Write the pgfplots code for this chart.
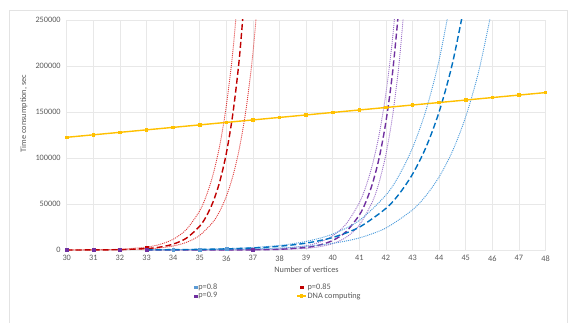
\documentclass[border=0pt]{standalone}
\usepackage{pgfplots}
\pgfplotsset{compat=1.18}
\usepackage{fontspec}
\setmainfont{Carlito}
\definecolor{redC}{HTML}{C00000}
\definecolor{redD}{HTML}{E03A3A}
\definecolor{purC}{HTML}{7030A0}
\definecolor{purD}{HTML}{9B6FC8}
\definecolor{bluC}{HTML}{0070C0}
\definecolor{bluD}{HTML}{4A9ADB}
\definecolor{bluM}{HTML}{5B9BD5}
\definecolor{dna}{HTML}{FFC000}
\definecolor{txt}{HTML}{595959}
\begin{document}
\begin{tikzpicture}[x=1bp,y=1bp]
\path[use as bounding box] (0,0) rectangle (577,323);
\draw[color=gray!22, line width=0.7bp] (9.5,0) -- (9.5,313) -- (567.5,313) -- (567.5,0);
\node[rotate=90, font=\fontsize{8.3}{10}\selectfont, text=txt] at (24,209.5) {Time consumption, sec};
\node[font=\fontsize{8.3}{10}\selectfont, text=txt] at (306.5,53) {Number of vertices};
\begin{axis}[
  at={(66.7bp,73bp)}, anchor=south west, scale only axis,
  width=478.8bp, height=230bp,
  xmin=30, xmax=48, ymin=0, ymax=250000,
  xtick={30,...,48}, ytick={0,50000,100000,150000,200000,250000},
  grid=major, major grid style={color=gray!18, line width=0.6bp},
  axis line style={draw=none}, major tick length=0,
  /pgf/number format/assume math mode=true,
  ticklabel style={font=\fontsize{8.3}{10}\selectfont, text=txt},
  xticklabel style={yshift=-2bp},
  yticklabel style={xshift=-2.5bp, /pgf/number format/fixed, /pgf/number format/1000 sep={}},
  scaled y ticks=false,
  clip mode=individual,
  legend columns=2,
  legend cell align=left,
  legend style={at={(axis description cs:0.2669,-0.142)}, anchor=north west,
    draw=none, fill=none, inner sep=0pt, font=\fontsize{8.3}{10}\selectfont, text=txt,
    cells={anchor=west},
    nodes={inner xsep=1bp, inner ysep=0.8bp},
    /tikz/every even column/.append style={column sep=78bp}},
  legend image code/.code={\draw[mark repeat=2,mark phase=2,#1] plot coordinates {(0bp,0bp) (4.5bp,0bp) (9bp,0bp)};},
]
% --- trendlines p=0.85 (red)
\addplot[forget plot, redD, line width=0.9bp, dash pattern=on 1bp off 1bp, smooth] coordinates {
(30,64) (31,235) (32,864) (33,3169) (33.5,6070) (34,11630) (34.5,22275) (35,42665) (35.25,59050) (35.5,81730) (35.75,113100) (36,156600) (36.25,216700) (36.5,299900)};
\addplot[forget plot, redD, line width=0.9bp, dash pattern=on 1bp off 1bp, smooth] coordinates {
(30,24) (31,88) (32,322) (33,1180) (33.5,2260) (34,4330) (34.5,8293) (35,15885) (35.5,30430) (35.75,42120) (36,58290) (36.25,80680) (36.5,111650) (36.75,154550) (37,213900) (37.25,296000)};
\addplot[forget plot, redC, line width=1.4bp, dash pattern=on 6bp off 3bp, smooth] coordinates {
(30,24) (31,96) (32,388) (33,1572) (33.5,3168) (34,6383) (34.5,12855) (35,25880) (35.25,36730) (35.5,52120) (35.75,73950) (36,104950) (36.25,148900) (36.5,211350) (36.75,299900)};
% --- trendlines p=0.9 (purple)
\addplot[forget plot, purD, line width=0.9bp, dash pattern=on 1bp off 1bp, smooth] coordinates {
(33,3.5) (34,11.6) (35,38) (36,127) (37,422) (38,1401) (39,4653) (39.5,8477) (40,15450) (40.5,28146) (41,51290) (41.25,69230) (41.5,93440) (41.75,126150) (42,170275) (42.25,229860) (42.5,310280)};
\addplot[forget plot, purD, line width=0.9bp, dash pattern=on 1bp off 1bp, smooth] coordinates {
(33,0.5) (34,2) (35,8) (36,31) (37,122) (38,470) (39,1811) (39.5,3557) (40,6986) (40.5,13720) (41,26950) (41.5,52930) (41.75,74170) (42,103950) (42.25,145670) (42.5,204170) (42.75,286130)};
\addplot[forget plot, purC, line width=1.4bp, dash pattern=on 6bp off 3bp, smooth] coordinates {
(33,1) (34,4) (35,15.6) (36,57) (37,209) (38,768) (39,2819) (39.5,5400) (40,10345) (40.5,19817) (41,37956) (41.25,52525) (41.5,72700) (41.75,100630) (42,139275) (42.25,192775) (42.5,266800)};
% --- trendlines p=0.8 (blue)
\addplot[forget plot, bluD, line width=0.9bp, dash pattern=on 1bp off 1bp, smooth] coordinates {
(33,225) (34,419) (35,778) (36,1447) (37,2690) (38,5000) (39,9295) (40,17280) (41,32120) (42,59700) (42.5,81400) (43,111000) (43.5,151330) (44,206300) (44.5,281300)};
\addplot[forget plot, bluD, line width=0.9bp, dash pattern=on 1bp off 1bp, smooth] coordinates {
(33,108) (34,197) (35,359) (36,654) (37,1192) (38,2172) (39,3957) (40,7210) (41,13137) (42,23937) (43,43620) (43.5,58875) (44,79475) (44.5,107275) (45,144825) (45.5,195475) (46,263875)};
\addplot[forget plot, bluC, line width=1.4bp, dash pattern=on 6bp off 3bp, smooth] coordinates {
(33,204) (34,372) (35,678) (36,1235) (37,2251) (38,4102) (39,7474) (40,13619) (41,24814) (42,45212) (42.5,61025) (43,82400) (43.5,111225) (44,150125) (44.5,202650) (45,273550)};
% --- DNA computing
\addplot[forget plot, dna, line width=1.4bp, mark=square*, mark size=1.1bp, mark options={solid}] coordinates {
(30,122500) (31,125200) (32,127900) (33,130600) (34,133300) (35,136000) (36,138700) (37,141400) (38,144100) (39,146800) (40,149500) (41,152200) (42,154900) (43,157600) (44,160300) (45,163000) (46,165700) (47,168400) (48,171100)};
% --- data points
\addplot[forget plot, only marks, redC, mark=square*, mark size=1.4bp] coordinates {(30,30) (31,110) (32,450) (33,2500)};
\addplot[forget plot, only marks, purC, mark=square*, mark size=1.4bp] coordinates {(30,2) (31,6) (32,20) (33,60) (34,150) (35,400) (36,900) (37,300)};
\addplot[forget plot, only marks, bluM, mark=square*, mark size=1.4bp] coordinates {(34,300) (35,600) (36,1100)};
% --- legend entries
\addlegendimage{only marks, bluM, mark=square*, mark size=1.3bp}
\addlegendentry{p=0.8}
\addlegendimage{only marks, redC, mark=square*, mark size=1.3bp}
\addlegendentry{p=0.85}
\addlegendimage{only marks, purC, mark=square*, mark size=1.3bp}
\addlegendentry{p=0.9}
\addlegendimage{dna, line width=1.4bp, mark=square*, mark size=1.1bp}
\addlegendentry{DNA computing}
\end{axis}
\end{tikzpicture}
\end{document}
